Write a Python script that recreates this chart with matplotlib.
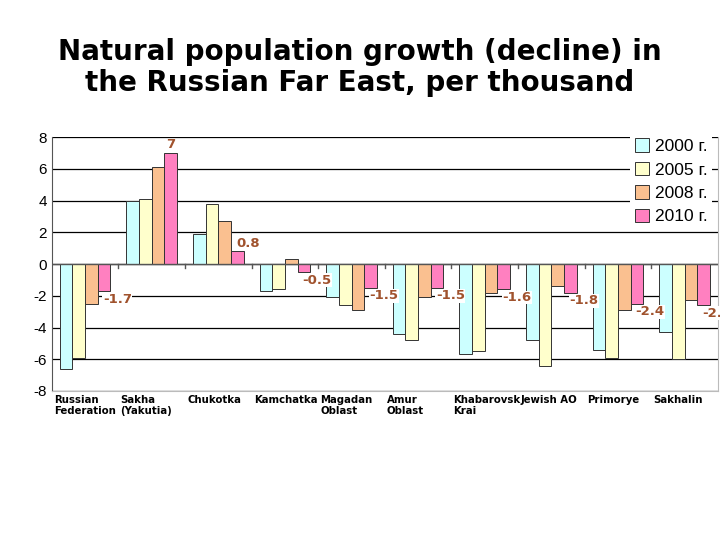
import matplotlib
matplotlib.use("Agg")
import matplotlib.pyplot as plt
import matplotlib.transforms as mt
import numpy as np

categories = ["Russian\nFederation", "Sakha\n(Yakutia)", "Chukotka", "Kamchatka", "Magadan\nOblast",
              "Amur\nOblast", "Khabarovsk\nKrai", "Jewish AO", "Primorye", "Sakhalin"]
series_names = ["2000 г.", "2005 г.", "2008 г.", "2010 г."]
v2000 = [-6.6, 4.0, 1.9, -1.7, -2.1, -4.4, -5.7, -4.8, -5.4, -4.3]
v2005 = [-5.9, 4.1, 3.8, -1.6, -2.6, -4.8, -5.5, -6.4, -5.9, -6.0]
v2008 = [-2.5, 6.1, 2.7, 0.3, -2.9, -2.1, -1.8, -1.4, -2.9, -2.25]
v2010 = [-1.7, 7.0, 0.8, -0.5, -1.5, -1.5, -1.6, -1.8, -2.5, -2.6]
labels2010 = ["-1.7", "7", "0.8", "-0.5", "-1.5", "-1.5", "-1.6", "-1.8", "-2.4", "-2.6"]
colors = ["#ccffff", "#ffffcc", "#fac090", "#ff80c0"]

fig = plt.figure(figsize=(7.2, 5.4), dpi=100)
fig.text(0.5, 0.875, "Natural population growth (decline) in\nthe Russian Far East, per thousand",
         ha="center", va="center", fontsize=20, fontweight="bold", linespacing=1.1)
ax = fig.add_axes([0.072, 0.276, 0.925, 0.47])
x = np.arange(len(categories))
w = 0.19
for i, (vals, c, n) in enumerate(zip([v2000, v2005, v2008, v2010], colors, series_names)):
    ax.bar(x + (i - 1.5) * w, vals, w, color=c, edgecolor="#333333", linewidth=0.7, label=n, zorder=3)
for xi, v, t in zip(x, v2010, labels2010):
    if v > 3:
        ax.text(xi + 1.5 * w, v + 0.15, t, ha="center", va="bottom", color="#a0522d", fontsize=9.5, fontweight="bold", zorder=5)
    else:
        ax.text(xi + 1.5 * w - 0.02, v - 0.1 if v < 0 else v + 0.9, t, ha="left", va="top", color="#a0522d",
                fontsize=9.5, fontweight="bold", zorder=5,
                bbox=dict(facecolor="white", edgecolor="none", pad=0.3))
ax.set_ylim(-8, 8)
ax.set_xlim(-0.5, len(categories) - 0.5)
ax.set_yticks(range(-8, 9, 2))
ax.set_yticklabels([str(t) for t in range(-8, 9, 2)], family="Liberation Sans")
ax.tick_params(axis="y", labelsize=11, length=0)
ax.yaxis.grid(True, color="black", linewidth=0.9, zorder=0)
ax.axhline(0, color="#555555", linewidth=1, zorder=4)
for b in np.arange(0.5, len(categories) - 0.5, 1):
    ax.plot([b, b], [0, -0.25], color="#555555", linewidth=1, zorder=4)
ax.set_xticks([])
tr = mt.blended_transform_factory(ax.transData, ax.transAxes)
for xi, c in zip(x, categories):
    ax.text(xi - 0.47, -0.015, c, transform=tr, ha="left", va="top", fontsize=7.3, fontweight="bold",
            linespacing=1.2)
ax.spines["top"].set_visible(False)
ax.spines["right"].set_color("#bbbbbb")
ax.spines["bottom"].set_color("#bbbbbb")
ax.spines["left"].set_color("#555555")
leg = ax.legend(loc="upper right", bbox_to_anchor=(1.005, 1.05), prop={"family": "Liberation Sans", "size": 12.5},
                frameon=True, handlelength=0.8, handleheight=0.8, handletextpad=0.3, labelspacing=0.45, borderpad=0.3)
leg.get_frame().set_edgecolor("none")
leg.get_frame().set_facecolor("white")
leg.get_frame().set_alpha(1)
leg.set_zorder(6)
fig.savefig("out.png", dpi=100)
